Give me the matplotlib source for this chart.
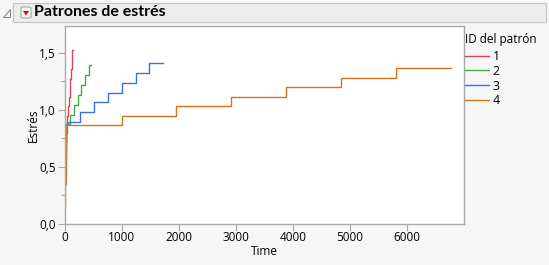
import matplotlib
matplotlib.use("Agg")
import matplotlib.pyplot as plt
from matplotlib.patches import Rectangle, Polygon, FancyBboxPatch
from matplotlib.lines import Line2D
from matplotlib.ticker import MultipleLocator, FuncFormatter

plt.rcParams['font.family'] = ['Open Sans', 'DejaVu Sans']

# ---- data (step patterns: start times of each level, level values, end time) ----
pattern_ids = ["1", "2", "3", "4"]

t1 = [0, 8, 20, 38, 51, 64, 77, 90, 103, 116, 129, 140]
s1 = [0.62, 0.72, 0.80, 0.87, 0.95, 1.03, 1.11, 1.19, 1.27, 1.36, 1.44, 1.52]
end1 = 146

t2 = [0, 12, 30, 96, 166, 230, 296, 362, 424]
s2 = [0.45, 0.70, 0.875, 0.955, 1.04, 1.13, 1.217, 1.305, 1.39]
end2 = 459

t3 = [0, 10, 25, 40, 275, 520, 762, 1003, 1247, 1488]
s3 = [0.50, 0.60, 0.87, 0.896, 0.983, 1.066, 1.15, 1.237, 1.325, 1.412]
end3 = 1720

t4 = [0, 12, 22, 32, 1000, 1955, 2921, 3880, 4843, 5806]
s4 = [0.17, 0.35, 0.62, 0.865, 0.946, 1.03, 1.11, 1.197, 1.281, 1.363]
end4 = 6765

series = [(t1, s1, end1), (t2, s2, end2), (t3, s3, end3), (t4, s4, end4)]
colors = ['#E2444F', '#3FAE3F', '#3A6FE0', '#D4741E']

W, H = 549, 265
fig = plt.figure(figsize=(W / 100, H / 100), dpi=100)
fig.patch.set_facecolor('#F6F6F6')

# header bar
fig.add_artist(Rectangle((13 / W, 1 - 22 / H), (546 - 13) / W, 19 / H,
                         transform=fig.transFigure, facecolor='#ECECEC',
                         edgecolor='#C4C4C4', linewidth=0.8))
# disclosure triangle
fig.add_artist(Polygon([(3 / W, 1 - 17 / H), (10 / W, 1 - 17 / H), (10 / W, 1 - 9 / H)],
                       closed=True, transform=fig.transFigure, facecolor='#F4F4F4',
                       edgecolor='#808080', linewidth=0.7))
# red-arrow button
fig.add_artist(FancyBboxPatch((21 / W, 1 - 18 / H), 10 / W, 11 / H,
                              boxstyle='round,pad=0,rounding_size=0.004',
                              transform=fig.transFigure, facecolor='#F2F2F2',
                              edgecolor='#A0A0A0', linewidth=0.7))
fig.add_artist(Polygon([(23 / W, 1 - 11 / H), (29 / W, 1 - 11 / H), (26 / W, 1 - 15.5 / H)],
                       closed=True, transform=fig.transFigure, facecolor='#D01010',
                       edgecolor='none'))
fig.text(34 / W, 1 - 12.5 / H, 'Patrones de estrés', fontsize=11.5, fontweight='bold',
         family=['Lato', 'DejaVu Sans'], va='center', ha='left', color='black')

# axes
left, right, top, bottom = 64.5, 464, 25.7, 224
ax = fig.add_axes([left / W, (H - bottom) / H, (right - left) / W, (bottom - top) / H])
ax.set_facecolor('white')

for (t, s, end), c in zip(series, colors):
    ax.step(list(t) + [end], list(s) + [s[-1]], where='post', color=c, linewidth=1.0)

ax.set_xlim(0, 6995)
ax.set_ylim(0, 1.737)
ax.xaxis.set_major_locator(MultipleLocator(1000))
ax.yaxis.set_major_locator(MultipleLocator(0.5))
ax.yaxis.set_minor_locator(MultipleLocator(0.25))
ax.yaxis.set_major_formatter(FuncFormatter(lambda v, p: f"{v:.1f}".replace('.', ',')))
ax.xaxis.set_major_formatter(FuncFormatter(lambda v, p: f"{int(v)}"))

for sp in ax.spines.values():
    sp.set_color('#A8A8A8')
    sp.set_linewidth(1.0)
ax.tick_params(axis='both', which='major', length=5, width=0.8, color='#A8A8A8',
               labelsize=8.5, labelcolor='black', pad=1.5)
ax.tick_params(axis='x', which='major', pad=0)
ax.tick_params(axis='y', which='minor', length=3, width=0.8, color='#A8A8A8')
ax.set_xlabel('Time', fontsize=8.5, labelpad=0.5)
ax.set_ylabel('Estrés', fontsize=8.5, labelpad=-1)

# legend
fig.text(465 / W, 1 - 40 / H, 'ID del patrón', fontsize=8.5, va='center', ha='left')
handles = [Line2D([0], [0], color=c, linewidth=1.0) for c in colors]
leg = fig.legend(handles, pattern_ids, loc='upper left',
                 bbox_to_anchor=(465 / W, 1 - 50 / H), frameon=False, fontsize=9,
                 handlelength=1.9, handletextpad=0.3,
                 labelspacing=0.14, borderaxespad=0, borderpad=0)

fig.savefig('out.png', dpi=100, facecolor=fig.get_facecolor())
